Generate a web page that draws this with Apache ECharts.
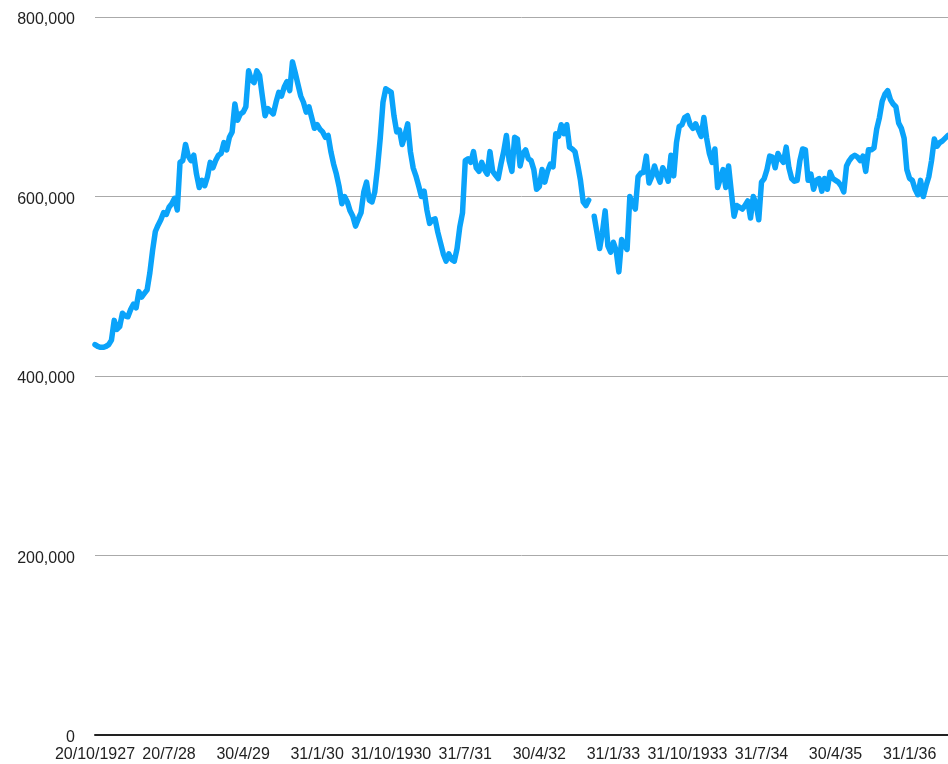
<!DOCTYPE html>
<html>
<head>
<meta charset="utf-8">
<title>Chart</title>
<script src="https://cdn.jsdelivr.net/npm/echarts@6/dist/echarts.min.js"></script>
<style>
  html, body { margin: 0; padding: 0; background: #fff; }
  #chart { width: 948px; height: 764px; }
</style>
</head>
<body>
<div id="chart"></div>
<script>
// 刻度标签, 每27个点一个
var tickLabels = ['20/10/1927', '20/7/28', '30/4/29', '31/1/30', '31/10/1930', '31/7/31',
  '30/4/32', '31/1/33', '31/10/1933', '31/7/34', '30/4/35', '31/1/36'];

// 数值 (千)
var valuesK = [
  435, 433, 432, 432, 433, 435, 440, 462, 452, 455,
  470, 467, 466, 474, 480, 476, 494, 488, 492, 496,
  515, 540, 561, 568, 574, 582, 580, 588, 592, 598,
  585, 638, 640, 658, 645, 640, 646, 625, 610, 618,
  612, 622, 638, 632, 640, 646, 648, 660, 652, 666,
  672, 703, 685, 692, 694, 700, 740, 730, 727, 740,
  735, 712, 690, 698, 695, 692, 705, 716, 712, 722,
  728, 718, 750, 738, 725, 712, 705, 694, 700, 688,
  676, 680, 675, 672, 666, 668, 650, 636, 625, 611,
  592, 600, 594, 584, 578, 567, 575, 582, 605, 616,
  596, 594, 605, 632, 665, 705, 720, 718, 716, 690,
  672, 674, 658, 668, 681, 650, 632, 623, 612, 600,
  606, 585, 570, 574, 575, 560, 548, 536, 528, 536,
  530, 528, 542, 566, 582, 640, 642, 638, 650, 632,
  628, 638, 630, 625, 650, 628, 624, 620, 636, 650,
  668, 640, 628, 666, 664, 634, 648, 652, 642, 640,
  630, 608, 611, 630, 616, 628, 636, 633, 670, 667,
  680, 670, 680, 655, 653, 650, 635, 618, 594, 590,
  596, null, 578, 560, 542, 560, 584, 545, 538, 549,
  540, 516, 552, 546, 541, 600, 592, 586, 622, 626,
  627, 645, 615, 622, 634, 624, 616, 632, 626, 617,
  646, 623, 660, 678, 680, 688, 690, 680, 676, 681,
  674, 667, 688, 665, 648, 638, 653, 610, 620, 630,
  610, 634, 605, 578, 590, 588, 586, 590, 595, 576,
  600, 592, 574, 616, 620, 630, 645, 644, 632, 648,
  642, 638, 655, 632, 620, 617, 618, 640, 653, 652,
  618, 625, 608, 618, 620, 606, 620, 608, 627, 620,
  618, 616, 612, 605, 634, 640, 644, 646, 644, 640,
  645, 628, 652, 652, 654, 675, 688, 706, 714, 718,
  708, 703, 700, 682, 676, 665, 630, 620, 618, 608,
  602, 618, 600, 612, 622, 640, 664, 656, 660, 662,
  665, 668
];

var values = valuesK.map(function (v) { return v == null ? null : v * 1000; });
var categories = valuesK.map(function (v, i) { return i; });

var fontFamily = '"Liberation Sans", Arial, Helvetica, sans-serif';

var myChart = echarts.init(document.getElementById('chart'));
var option = {
    animation: false,
    grid: { left: 95, right: -5, top: 17, bottom: 29 },
    xAxis: {
        type: 'category',
        data: categories,
        boundaryGap: false,
        axisLine: { lineStyle: { color: '#222', width: 2 } },
        axisTick: { show: false },
        splitLine: { show: false },
        axisLabel: {
            interval: 26,
            margin: 12,
            color: '#222',
            fontSize: 16,
            fontFamily: fontFamily,
            formatter: function (v, i) { return tickLabels[i / 27] || ''; }
        }
    },
    yAxis: {
        type: 'value',
        min: 0,
        max: 800000,
        interval: 200000,
        axisLine: { show: false },
        axisTick: { show: false },
        splitLine: { lineStyle: { color: '#aaa', width: 1 } },
        axisLabel: {
            margin: 20,
            color: '#222',
            fontSize: 16,
            fontFamily: fontFamily,
            formatter: function (v) { return '{a|' + v.toLocaleString('en-US') + '}'; },
            rich: {
                a: { color: '#222', fontSize: 16, fontFamily: fontFamily, padding: [6, 0, 0, 0] }
            }
        }
    },
    series: [{
        type: 'line',
        data: values,
        showSymbol: false,
        connectNulls: false,
        lineStyle: { color: '#0aa3fa', width: 5.5, join: 'round', cap: 'round' }
    }]
};
myChart.setOption(option);
</script>
</body>
</html>
